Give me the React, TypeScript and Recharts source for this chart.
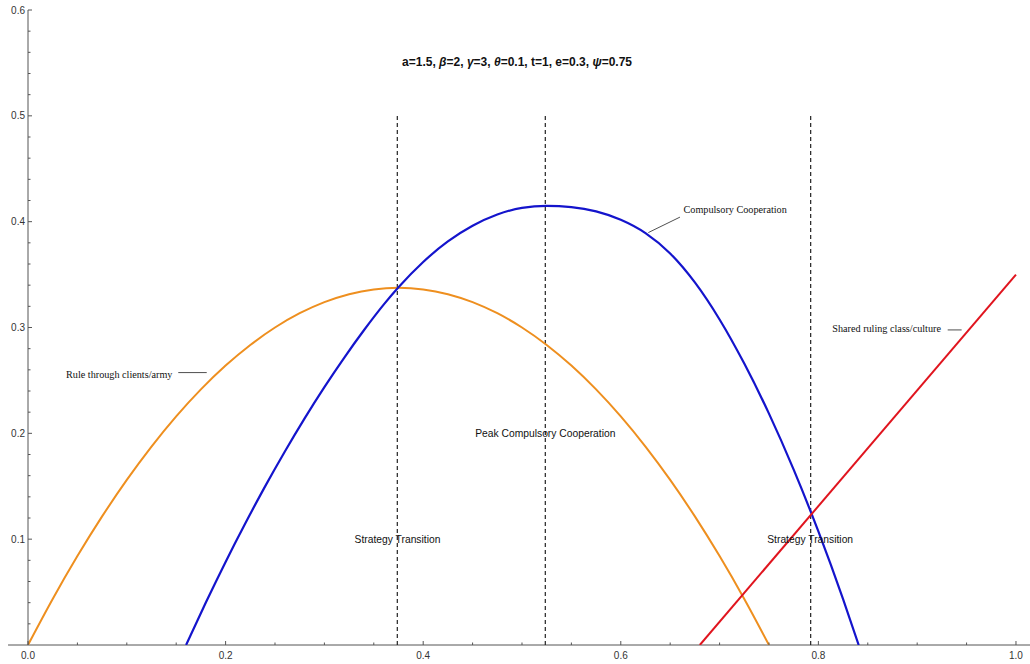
import React from 'react';
import { LineChart, Line, XAxis, YAxis, ReferenceLine, ReferenceDot } from 'recharts';

// ---- data ----
const orangeX = [0, 0.025, 0.05, 0.075, 0.1, 0.125, 0.15, 0.175, 0.2, 0.225, 0.25, 0.275, 0.3, 0.325, 0.35, 0.375, 0.4, 0.425, 0.45, 0.475, 0.5, 0.525, 0.55, 0.575, 0.6, 0.625, 0.65, 0.675, 0.7, 0.725, 0.75];
const orangeY = [0, 0.0435, 0.084, 0.1215, 0.156, 0.1875, 0.216, 0.2415, 0.264, 0.2835, 0.3, 0.3135, 0.324, 0.3315, 0.336, 0.3375, 0.336, 0.3315, 0.324, 0.3135, 0.3, 0.2835, 0.264, 0.2415, 0.216, 0.1875, 0.156, 0.1215, 0.084, 0.0435, 0];

const blueX = [0.16, 0.18, 0.2, 0.22, 0.24, 0.26, 0.28, 0.3, 0.32, 0.34, 0.36, 0.375, 0.4, 0.425, 0.45, 0.475, 0.5, 0.525, 0.55, 0.575, 0.6, 0.625, 0.65, 0.675, 0.7, 0.725, 0.75, 0.775, 0.8, 0.825, 0.8408];
const blueY = [0, 0.0401, 0.0785, 0.115, 0.1499, 0.1829, 0.2142, 0.2437, 0.2714, 0.2974, 0.3216, 0.338, 0.3619, 0.3813, 0.3961, 0.4067, 0.4131, 0.415, 0.4138, 0.4097, 0.4018, 0.3892, 0.37, 0.3426, 0.3076, 0.2659, 0.2186, 0.1657, 0.1073, 0.0434, 0];

const redX = [0.68, 1.0];
const redY = [0, 0.35];

const transitionX = [0.3738, 0.5236, 0.7922];
const transitionTop = 0.5;

const xTicks = [0, 0.05, 0.1, 0.15, 0.2, 0.25, 0.3, 0.35, 0.4, 0.45, 0.5, 0.55, 0.6, 0.65, 0.7, 0.75, 0.8, 0.85, 0.9, 0.95, 1.0];
const xMajorTicks = [0, 0.2, 0.4, 0.6, 0.8, 1.0];
const xTickLabels = ['0.0', '0.2', '0.4', '0.6', '0.8', '1.0'];

const yTicks = [0.02, 0.04, 0.06, 0.08, 0.1, 0.12, 0.14, 0.16, 0.18, 0.2, 0.22, 0.24, 0.26, 0.28, 0.3, 0.32, 0.34, 0.36, 0.38, 0.4, 0.42, 0.44, 0.46, 0.48, 0.5, 0.52, 0.54, 0.56, 0.58, 0.6];
const yMajorTicks = [0.1, 0.2, 0.3, 0.4, 0.5, 0.6];
const yTickLabels = ['0.1', '0.2', '0.3', '0.4', '0.5', '0.6'];

const titleParts = [
  { t: 'a=1.5, ', i: false },
  { t: 'β', i: true },
  { t: '=2, ', i: false },
  { t: 'γ', i: true },
  { t: '=3, ', i: false },
  { t: 'θ', i: true },
  { t: '=0.1, t=1, e=0.3, ', i: false },
  { t: 'ψ', i: true },
  { t: '=0.75', i: false },
];

const sansLabels = [
  { text: 'Strategy Transition', x: 0.374, y: 0.1 },
  { text: 'Peak Compulsory Cooperation', x: 0.5236, y: 0.2 },
  { text: 'Strategy Transition', x: 0.7917, y: 0.1 },
];

const serifLabels = [
  { text: 'Rule through clients/army', x: 0.0385, y: 0.2561 },
  { text: 'Compulsory Cooperation', x: 0.6635, y: 0.4112 },
  { text: 'Shared ruling class/culture', x: 0.8141, y: 0.2993 },
];

const pointerLines = [
  { x1: 0.1521, y1: 0.2574, x2: 0.1809, y2: 0.2574 },
  { x1: 0.6279, y1: 0.3897, x2: 0.6599, y2: 0.4043 },
  { x1: 0.9309, y1: 0.2977, x2: 0.945, y2: 0.2977 },
];

const titlePos = { x: 0.495, y: 0.551 };

const toData = (xs: number[], ys: number[]) => xs.map((x, i) => ({ x, y: ys[i] }));
const orangeData = toData(orangeX, orangeY);
const blueData = toData(blueX, blueY);
const redData = toData(redX, redY);

const AXIS = '#555';
const TEXT = '#333';
const SANS = '"Liberation Sans", Arial, sans-serif';
const SERIF = '"Liberation Serif", "Times New Roman", serif';

const near = (a: number, b: number) => Math.abs(a - b) < 1e-9;

const XTick = (props: any) => {
  const { x, y, payload } = props;
  const idx = xMajorTicks.findIndex((m) => near(m, payload.value));
  const major = idx >= 0;
  return (
    <g>
      <line x1={x} y1={y} x2={x} y2={y - (major ? 4 : 2.5)} stroke={AXIS} strokeWidth={1} />
      {major && (
        <text x={x} y={y + 14} textAnchor="middle" fontSize={10} fontFamily={SANS} fill={TEXT}>
          {xTickLabels[idx]}
        </text>
      )}
    </g>
  );
};

const YTick = (props: any) => {
  const { x, y, payload } = props;
  const idx = yMajorTicks.findIndex((m) => near(m, payload.value));
  const major = idx >= 0;
  return (
    <g>
      <line x1={x} y1={y} x2={x + (major ? 4 : 2.5)} y2={y} stroke={AXIS} strokeWidth={1} />
      {major && (
        <text x={x - 3} y={y} dy="0.35em" textAnchor="end" fontSize={10} fontFamily={SANS} fill={TEXT}>
          {yTickLabels[idx]}
        </text>
      )}
    </g>
  );
};

const textLabel = (text: string, family: string, size: number, anchor: string, weight = 'normal') =>
  (p: any) => {
    const vb = p.viewBox || {};
    const cx = (vb.x ?? 0) + (vb.width ?? 0) / 2;
    const cy = (vb.y ?? 0) + (vb.height ?? 0) / 2;
    return (
      <text x={cx} y={cy} dy="0.35em" textAnchor={anchor} fontSize={size} fontFamily={family} fontWeight={weight} fill="#111">
        {text}
      </text>
    );
  };

const titleLabel = (p: any) => {
  const vb = p.viewBox || {};
  const cx = (vb.x ?? 0) + (vb.width ?? 0) / 2;
  const cy = (vb.y ?? 0) + (vb.height ?? 0) / 2;
  return (
    <text x={cx} y={cy} dy="0.35em" textAnchor="middle" fontSize={12} fontFamily={SANS} fontWeight="bold" fill="#111">
      {titleParts.map((tp, i) => (
        <tspan key={i} fontStyle={tp.i ? 'italic' : 'normal'}>{tp.t}</tspan>
      ))}
    </text>
  );
};

export default function App() {
  return (
    <div style={{ position: 'absolute', left: 0, top: 0, background: '#fff' }}>
      <LineChart width={1030} height={664} margin={{ top: 10, right: 0, bottom: 0, left: 0 }}>
        <XAxis
          type="number"
          dataKey="x"
          domain={[0, 1.0142]}
          allowDataOverflow
          ticks={xTicks}
          interval={0}
          axisLine={false}
          tickLine={false}
          tickSize={0}
          tickMargin={0}
          height={19}
          tick={<XTick />}
        />
        <YAxis
          type="number"
          dataKey="y"
          domain={[0, 0.6]}
          allowDataOverflow
          ticks={yTicks}
          interval={0}
          width={28}
          axisLine={{ stroke: AXIS, strokeWidth: 1 }}
          tickLine={false}
          tickSize={0}
          tickMargin={0}
          tick={<YTick />}
        />
        <ReferenceLine
          segment={[{ x: -0.0202, y: 0 }, { x: 1.0142, y: 0 }]}
          stroke={AXIS}
          strokeWidth={1}
          ifOverflow="visible"
        />
        {transitionX.map((tx, i) => (
          <ReferenceLine
            key={'t' + i}
            segment={[{ x: tx, y: 0 }, { x: tx, y: transitionTop }]}
            stroke="#222"
            strokeWidth={1.2}
            strokeDasharray="4 3"
            ifOverflow="visible"
          />
        ))}
        {pointerLines.map((l, i) => (
          <ReferenceLine
            key={'p' + i}
            segment={[{ x: l.x1, y: l.y1 }, { x: l.x2, y: l.y2 }]}
            stroke="#222"
            strokeWidth={0.8}
            ifOverflow="visible"
          />
        ))}
        <Line data={orangeData} dataKey="y" type="monotone" stroke="#EE8F1F" strokeWidth={2} dot={false} isAnimationActive={false} />
        <Line data={blueData} dataKey="y" type="monotone" stroke="#1414CC" strokeWidth={2.2} dot={false} isAnimationActive={false} />
        <Line data={redData} dataKey="y" type="linear" stroke="#E0141E" strokeWidth={2} dot={false} isAnimationActive={false} />
        {sansLabels.map((l, i) => (
          <ReferenceDot key={'s' + i} x={l.x} y={l.y} r={0} fill="none" stroke="none" ifOverflow="visible"
            label={{ content: textLabel(l.text, SANS, 10.3, 'middle') }} />
        ))}
        {serifLabels.map((l, i) => (
          <ReferenceDot key={'f' + i} x={l.x} y={l.y} r={0} fill="none" stroke="none" ifOverflow="visible"
            label={{ content: textLabel(l.text, SERIF, 10.2, 'start') }} />
        ))}
        <ReferenceDot x={titlePos.x} y={titlePos.y} r={0} fill="none" stroke="none" ifOverflow="visible"
          label={{ content: titleLabel }} />
      </LineChart>
    </div>
  );
}
